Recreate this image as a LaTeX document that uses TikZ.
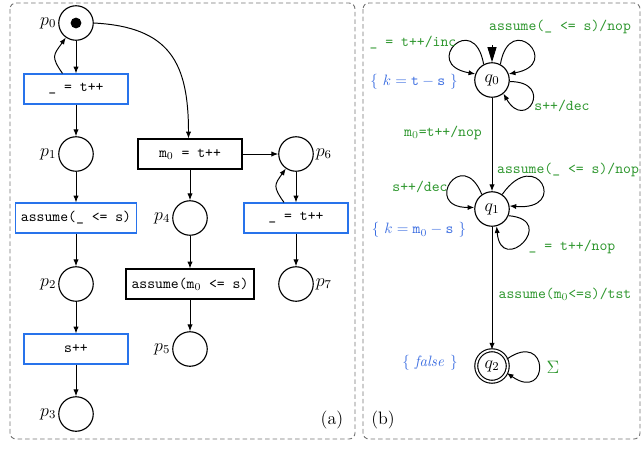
\documentclass[tikz,border=0pt]{standalone}
\usetikzlibrary{arrows.meta,positioning}
\definecolor{lgreen}{RGB}{45,150,45}
\definecolor{tblue}{RGB}{60,110,225}
\definecolor{bblue}{RGB}{40,115,235}
\begin{document}
\begin{tikzpicture}[x=0.6667pt,y=-0.6667pt,
  >={Latex[length=4.5pt,width=3.5pt]},
  every path/.style={line width=0.65pt},
  place/.style={circle,draw,line width=0.75pt,minimum size=23pt,inner sep=0pt},
  state/.style={circle,draw,line width=0.75pt,minimum size=23pt,inner sep=0pt},
  trans/.style={draw,line width=0.75pt,minimum height=20pt,minimum width=69.3pt,inner xsep=3.7pt,font=\ttfamily},
  btrans/.style={trans,draw=bblue},
  plab/.style={font=\large,inner sep=1pt},
  glab/.style={text=lgreen,font=\ttfamily,inner sep=0pt},
  blab/.style={text=tblue,inner sep=0pt},
  frame/.style={draw=black!55,dash pattern=on 3pt off 2pt,rounded corners=4pt,line width=0.6pt}]
\useasboundingbox (0,0) rectangle (642,448);
\draw[frame] (10,3) rectangle (355,439);
\draw[frame] (363,3) rectangle (640,439);
% left net
\node[place,label={[plab]left:$p_0$}] (p0) at (76,23) {};
\fill (p0) circle (3.6pt);
\node[btrans] (b1) at (76,89) {\_ = t++};
\node[place,label={[plab]left:$p_1$}] (p1) at (76,154) {};
\node[btrans] (b2) at (76,218) {assume(\_ <= s)};
\node[place,label={[plab]left:$p_2$}] (p2) at (76,284) {};
\node[btrans] (b3) at (76,349) {s++};
\node[place,label={[plab]left:$p_3$}] (p3) at (76,414) {};
\node[trans] (m0) at (190,154) {m$_0$ = t++};
\node[place,label={[plab]left:$p_4$}] (p4) at (190,218) {};
\node[trans] (am) at (190,284) {assume(m$_0$ <= s)};
\node[place,label={[plab]left:$p_5$}] (p5) at (190,349) {};
\node[place,label={[plab]right:$p_6$}] (p6) at (296,154) {};
\node[btrans] (b4) at (296,218) {\_ = t++};
\node[place,label={[plab]right:$p_7$}] (p7) at (296,284) {};
\draw[->] (p0) -- (b1);
\draw[->] ([xshift=-9pt]b1.north) to[out=125,in=235,looseness=1.5] (p0.235);
\draw[->] (b1) -- (p1);
\draw[->] (p1) -- (b2);
\draw[->] (b2) -- (p2);
\draw[->] (p2) -- (b3);
\draw[->] (b3) -- (p3);
\draw[->] (p0.east) to[out=-3,in=90,looseness=1.3] ([xshift=-1pt]m0.north);
\draw[->] (m0) -- (p6);
\draw[->] (m0) -- (p4);
\draw[->] (p4) -- (am);
\draw[->] (am) -- (p5);
\draw[->] (p6) -- (b4);
\draw[->] ([xshift=-8pt]b4.north) to[out=125,in=235,looseness=1.5] (p6.235);
\draw[->] (b4) -- (p7);
\node[plab] (la) at (332,420) {(a)};
% automaton
\node[state] (q0) at (492,80) {\large$q_0$};
\node[state] (q1) at (492,209) {\large$q_1$};
\node[state,double,double distance=1.2pt,minimum size=21pt] (q2) at (492,366) {\large$q_2$};
\coordinate (ini) at (492,45);
\draw[-{Triangle[length=10pt,width=6pt]}] (ini) -- (q0);
\draw[->] (q0.118) to[out=100,in=170,distance=37pt] (q0.160);
\draw[->] (q0.62) to[out=80,in=10,distance=37pt] (q0.20);
\draw[->] (q0.-5) to[out=0,in=-60,distance=30pt] (q0.-50);
\draw[->] (q0) -- (q1);
\draw[->] (q1.125) to[out=112,in=180,distance=35pt] (q1.175);
\draw[->] (q1.55) to[out=55,in=-5,distance=40pt] (q1.10);
\draw[->] (q1.-22) to[out=-5,in=-85,distance=34pt] (q1.-75);
\draw[->] (q1) -- (q2);
\draw[->] (q2.25) to[out=35,in=-35,distance=35pt] (q2.-25);
\node[glab] (l1) at (413,43) {\_ = t++/inc};
\node[glab] (l2) at (560,27) {assume(\_ <= s)/nop};
\node[blab] (k0) at (414,82) {$\{\ k = \mathtt{t} - \mathtt{s}\ \}$};
\node[glab] (l3) at (562,106) {s++/dec};
\node[glab] (l4) at (443,133) {m$_0$=t++/nop};
\node[glab] (l5) at (568,170) {assume(\_ <= s)/nop};
\node[glab] (l6) at (420,187) {s++/dec};
\node[blab] (k1) at (419,230) {$\{\ k = \mathtt{m}_0 - \mathtt{s}\ \}$};
\node[glab] (l7) at (572,247) {\_ = t++/nop};
\node[glab] (l8) at (565,294) {assume(m$_0$<=s)/tst};
\node[blab] (k2) at (430,363) {$\{\ \mathit{false}\ \}$};
\node[text=lgreen,font=\large] (sg) at (553,367) {$\Sigma$};
\node[plab] (lb) at (383,420) {(b)};
\end{tikzpicture}
\end{document}
